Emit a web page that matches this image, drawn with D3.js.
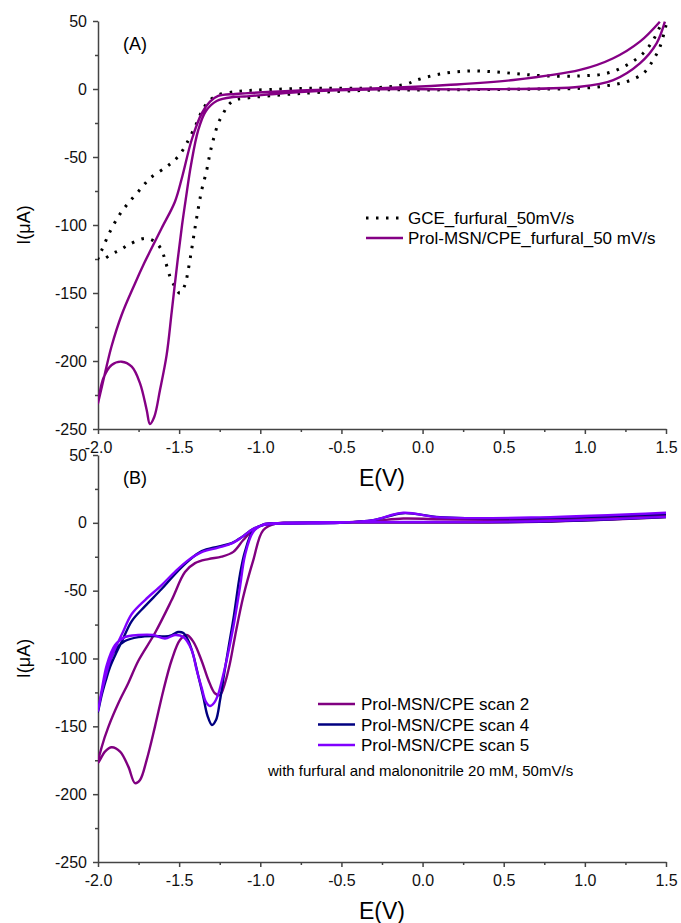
<!DOCTYPE html>
<html>
<head>
<meta charset="utf-8">
<script src="https://cdnjs.cloudflare.com/ajax/libs/d3/7.8.5/d3.min.js"></script>
<style>
  body { margin: 0; background: #fff; }
  svg { display: block; font-family: "Liberation Sans", Arial, sans-serif; }
  .axis path, .axis line { stroke: #444; stroke-width: 1.5; }
  .axis text { font-size: 16px; fill: #111; font-family: "Liberation Sans", Arial, sans-serif; }
</style>
</head>
<body>
<svg id="chart" width="681" height="923"></svg>
<script>
// [E (V), I (uA)]. "upper" = return sweep, "lower" = forward sweep
var gceUpper = [[-2.0,-124.3],[-1.977,-118.4],[-1.926,-104.9],[-1.875,-93.9],[-1.823,-85.3],[-1.752,-75.5],[-1.68,-65.7],
  [-1.577,-57.1],[-1.526,-52.2],[-1.484,-46.1],[-1.453,-39.9],[-1.402,-27.7],[-1.361,-16.7],[-1.32,-9.3],[-1.259,-4.4],
  [-1.156,-2.0],[-1.094,-1.3],[-0.755,0.4],[-0.262,1.1],[-0.098,3.7],[-0.036,6.6],[0.107,11],[0.272,13.2],[0.436,12.7],
  [0.6,11],[0.765,9.6],[0.97,9.6],[1.134,11.5],[1.258,17.6],[1.36,26.3],[1.421,36],[1.463,45.8],[1.481,49.3]];
var gceLower = [[-2.0,-124.3],[-1.977,-125.7],[-1.916,-121.3],[-1.864,-118.4],[-1.813,-114.7],[-1.71,-109.8],[-1.649,-112.3],
  [-1.608,-118.4],[-1.587,-125.7],[-1.556,-138],[-1.526,-145.4],[-1.495,-150.2],[-1.464,-144],[-1.444,-133],[-1.423,-118],
  [-1.402,-102],[-1.382,-87.7],[-1.361,-74.3],[-1.33,-59.6],[-1.31,-47.3],[-1.29,-37.5],[-1.259,-25.2],[-1.228,-17.9],
  [-1.197,-11.8],[-1.156,-8.1],[-1.094,-6.8],[-0.755,-3.3],[-0.262,-0.7],[0.004,-0.7],[0.559,-0.2],[0.97,0.5],[1.134,2.4],
  [1.258,5.4],[1.36,11.5],[1.421,21.3],[1.463,31.1],[1.493,43.4],[1.5,47]];
var msnUpper = [[-2.0,-231],[-1.957,-209],[-1.916,-189],[-1.854,-166],[-1.772,-143],[-1.715,-128],[-1.68,-119.5],
  [-1.608,-102.4],[-1.526,-82.9],[-1.481,-64.5],[-1.423,-37.5],[-1.361,-17.9],[-1.31,-9.3],[-1.259,-5.1],[-1.156,-3.7],
  [-1.094,-3.2],[-0.755,-1.1],[-0.262,0.5],[0.149,2.9],[0.559,6.6],[0.97,14],[1.175,22.6],[1.339,34.8],[1.462,49.5]];
var msnLower = [[-2.0,-231],[-1.967,-212.7],[-1.916,-202.9],[-1.854,-200.5],[-1.792,-204.2],[-1.741,-216.4],[-1.7,-236],
  [-1.68,-246.3],[-1.653,-241],[-1.618,-221.3],[-1.577,-195.5],[-1.546,-164],[-1.509,-125.7],[-1.482,-100],[-1.458,-80.1],
  [-1.427,-55.9],[-1.382,-30.1],[-1.335,-16.2],[-1.269,-8.8],[-1.166,-5.9],[-1.094,-5.5],[-0.755,-2.2],[-0.262,-0.2],
  [0.354,-0.2],[0.97,1.7],[1.175,6.6],[1.339,18.9],[1.442,33.6],[1.493,49.5]];

var scan2Upper = [[-2.0,-177.1],[-1.977,-165.2],[-1.936,-150.4],[-1.874,-132.8],[-1.813,-118],[-1.752,-101.8],[-1.649,-81.2],
  [-1.546,-56.9],[-1.464,-36.3],[-1.402,-29.7],[-1.32,-26.7],[-1.238,-24.9],[-1.166,-21.4],[-1.105,-12.7],[-1.045,-5.4],
  [-0.971,-1.0],[-0.755,-0.2],[-0.509,0.2],[-0.304,1.3],[-0.119,3.2],[0.107,2.6],[0.723,2.5],[1.5,5.7]];
var scan2Lower = [[-2.0,-177.1],[-1.957,-168.6],[-1.916,-165.4],[-1.864,-168.6],[-1.813,-179.7],[-1.772,-191.9],[-1.741,-189.5],
  [-1.7,-174.7],[-1.649,-150.2],[-1.598,-123.9],[-1.546,-101.1],[-1.495,-86.4],[-1.453,-82.7],[-1.413,-87.6],[-1.361,-101.8],
  [-1.32,-115.8],[-1.28,-125.6],[-1.248,-126.9],[-1.218,-118.3],[-1.187,-103.5],[-1.156,-83.9],[-1.105,-54.5],[-1.043,-27.5],
  [-0.982,-5.4],[-0.899,-0.4],[-0.799,0],[0.723,0.7],[1.5,4.2]];
var scan4Upper = [[-2.0,-139.4],[-1.977,-126.9],[-1.951,-115.8],[-1.926,-106.3],[-1.885,-95.2],[-1.852,-87.1],[-1.792,-72.4],
  [-1.71,-61.4],[-1.608,-48.8],[-1.526,-37.8],[-1.444,-28.2],[-1.361,-20.9],[-1.259,-17.5],[-1.176,-14.9],[-1.105,-9.8],
  [-1.045,-4.6],[-0.983,-1.7],[-0.879,-0.6],[-0.509,0.1],[-0.304,2.0],[-0.119,7.1],[0.107,4.2],[0.723,3.5],[1.5,6.4]];
var scan4Lower = [[-2.0,-139.4],[-1.977,-125.4],[-1.946,-108.5],[-1.895,-93.7],[-1.834,-87.1],[-1.752,-84.2],[-1.659,-83.4],
  [-1.587,-83.8],[-1.544,-82.7],[-1.507,-80.5],[-1.474,-81.2],[-1.445,-86.4],[-1.413,-97.4],[-1.382,-112.9],[-1.351,-128.3],
  [-1.325,-142.3],[-1.298,-149],[-1.273,-145.4],[-1.248,-130.7],[-1.224,-112.2],[-1.193,-90.1],[-1.162,-68],[-1.125,-38],
  [-1.094,-21],[-1.045,-6.1],[-0.983,-1.3],[-0.879,-0.2],[-0.509,0.5],[0.723,0.9],[1.5,4.2]];
var scan5Upper = [[-2.0,-138.7],[-1.977,-124.7],[-1.951,-112.2],[-1.926,-101.8],[-1.885,-90.1],[-1.852,-82],[-1.792,-67.2],
  [-1.71,-56.9],[-1.608,-45.9],[-1.526,-36.1],[-1.444,-27.5],[-1.361,-21.6],[-1.259,-18.3],[-1.176,-15.2],[-1.105,-9.8],
  [-1.045,-4.6],[-0.983,-1.7],[-0.879,-0.6],[-0.509,0.1],[-0.304,2.0],[-0.119,7.4],[0.107,4.0],[0.723,4.0],[1.5,7.4]];
var scan5Lower = [[-2.0,-138.7],[-1.977,-123.2],[-1.946,-104.8],[-1.895,-90.1],[-1.834,-84.2],[-1.752,-82.7],[-1.659,-82.7],
  [-1.587,-85.3],[-1.526,-82.7],[-1.474,-84.2],[-1.423,-93.7],[-1.392,-108.5],[-1.361,-121.7],[-1.335,-132],[-1.31,-135],
  [-1.285,-132.8],[-1.259,-126.2],[-1.236,-115.8],[-1.207,-101.1],[-1.166,-76.8],[-1.125,-47.3],[-1.094,-23.8],[-1.045,-6.9],
  [-0.983,-1.3],[-0.879,-0.2],[-0.509,0.5],[0.723,1.2],[1.5,4.4]];

var xTicks = [-2.0, -1.5, -1.0, -0.5, 0.0, 0.5, 1.0, 1.5];
var yTicks = [-250, -200, -150, -100, -50, 0, 50];
var legendA = ['GCE_furfural_50mV/s', 'Prol-MSN/CPE_furfural_50 mV/s'];
var legendB = ['Prol-MSN/CPE scan 2', 'Prol-MSN/CPE scan 4', 'Prol-MSN/CPE scan 5'];
var noteB = 'with furfural and malononitrile 20 mM, 50mV/s';

(function() {
  var svg = d3.select('#chart');
  var left = 98, right = 666;

  var x = d3.scaleLinear().domain([-2, 1.5]).range([left, right]);

  function loop(upper, lower) {
    return lower.slice().reverse().concat(upper.slice(1));
  }

  function drawPanel(top, bottom, name, series, id) {
    var y = d3.scaleLinear().domain([-250, 50]).range([bottom, top]);
    var g = svg.append('g');

    svg.append('clipPath').attr('id', 'clip-' + id)
      .append('rect').attr('x', left).attr('y', top - 2).attr('width', right - left + 2).attr('height', bottom - top + 2);

    // minor ticks first so the axis line sits on top
    g.append('g').attr('class', 'axis').attr('transform', 'translate(0,' + bottom + ')')
      .call(d3.axisBottom(x).tickValues(d3.range(-1.75, 1.5, 0.5)).tickSize(3).tickFormat(''))
      .select('.domain').remove();
    g.append('g').attr('class', 'axis').attr('transform', 'translate(' + left + ',0)')
      .call(d3.axisLeft(y).tickValues(d3.range(-225, 50, 50)).tickSize(3).tickFormat(''))
      .select('.domain').remove();

    g.append('g').attr('class', 'axis').attr('transform', 'translate(0,' + bottom + ')')
      .call(d3.axisBottom(x).tickValues(xTicks).tickSize(5).tickSizeOuter(0).tickPadding(8)
        .tickFormat(function(d) { return d.toFixed(1); }));
    g.append('g').attr('class', 'axis').attr('transform', 'translate(' + left + ',0)')
      .call(d3.axisLeft(y).tickValues(yTicks).tickSize(5).tickSizeOuter(0).tickPadding(6)
        .tickFormat(function(d) { return String(d); }));

    var line = d3.line()
      .x(function(d) { return x(d[0]); })
      .y(function(d) { return y(d[1]); })
      .curve(d3.curveCatmullRom.alpha(0.5));

    var plot = g.append('g').attr('clip-path', 'url(#clip-' + id + ')');
    series.forEach(function(s) {
      plot.append('path')
        .attr('d', line(loop(s.upper, s.lower)))
        .attr('fill', 'none')
        .attr('stroke', s.color)
        .attr('stroke-width', s.dash ? 3 : 2.4)
        .attr('stroke-dasharray', s.dash || null)
        .attr('stroke-linejoin', 'round');
    });

    g.append('text').attr('x', 123).attr('y', top + 29)
      .style('font-size', '18px').text(name);

    g.append('text')
      .attr('transform', 'translate(30,' + y(-100) + ') rotate(-90)')
      .attr('text-anchor', 'middle')
      .style('font-size', '18px')
      .text('I(\u03bcA)');

    g.append('text').attr('x', 382).attr('y', bottom + 57)
      .attr('text-anchor', 'middle')
      .style('font-size', '23px')
      .text('E(V)');

    return g;
  }

  var seriesA = [
    {upper: gceUpper, lower: gceLower, color: '#000', dash: '2.5,7.5'},
    {upper: msnUpper, lower: msnLower, color: '#850085'}
  ];
  var seriesB = [
    {upper: scan2Upper, lower: scan2Lower, color: '#800080'},
    {upper: scan4Upper, lower: scan4Lower, color: '#000080'},
    {upper: scan5Upper, lower: scan5Lower, color: '#8000ff'}
  ];

  var gA = drawPanel(21, 429, '(A)', seriesA, 'a');
  var gB = drawPanel(455, 862, '(B)', seriesB, 'b');

  // legend A
  var legA = gA.append('g');
  legendA.forEach(function(label, i) {
    var s = seriesA[i];
    legA.append('line')
      .attr('x1', 366).attr('x2', s.dash ? 400 : 403)
      .attr('y1', 218 + i * 20).attr('y2', 218 + i * 20)
      .attr('stroke', s.color)
      .attr('stroke-width', s.dash ? 3 : 2.4)
      .attr('stroke-dasharray', s.dash || null);
    legA.append('text')
      .attr('x', 408).attr('y', 224 + i * 20)
      .style('font-size', '17px')
      .text(label);
  });

  // legend B
  var legB = gB.append('g');
  legendB.forEach(function(label, i) {
    legB.append('line')
      .attr('x1', 318).attr('x2', 355)
      .attr('y1', 704 + i * 20.5).attr('y2', 704 + i * 20.5)
      .attr('stroke', seriesB[i].color)
      .attr('stroke-width', 2.4);
    legB.append('text')
      .attr('x', 361).attr('y', 710 + i * 20.5)
      .style('font-size', '17px')
      .text(label);
  });
  legB.append('text')
    .attr('x', 268).attr('y', 776)
    .style('font-size', '15px')
    .text(noteB);
})();
</script>
</body>
</html>
